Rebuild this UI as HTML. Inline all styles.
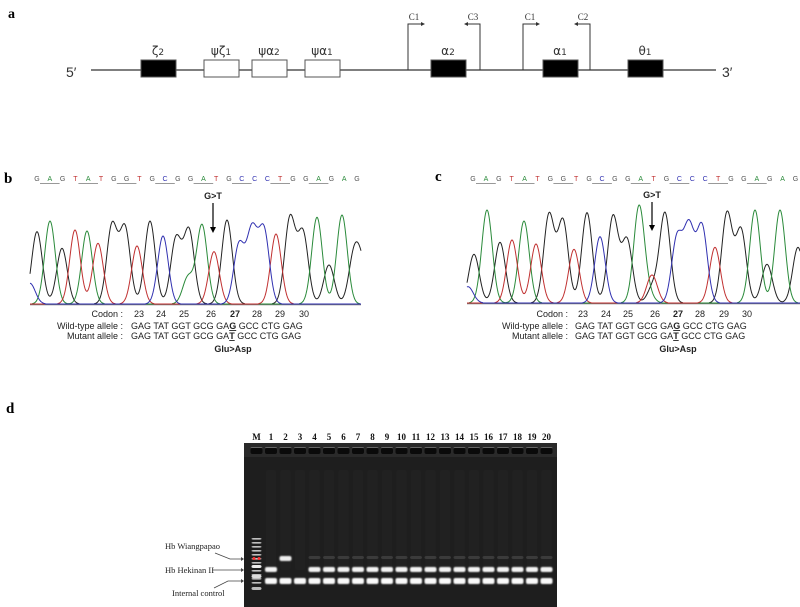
<!DOCTYPE html>
<html><head><meta charset="utf-8">
<style>
html,body{margin:0;padding:0;background:#fff;}
body{width:800px;height:607px;position:relative;overflow:hidden;font-family:"Liberation Sans",Arial,sans-serif;}
svg{position:absolute;left:0;top:0;}
</style></head>
<body>
<svg id="s" width="800" height="607" viewBox="0 0 800 607" xmlns="http://www.w3.org/2000/svg">
<defs>
<filter id="bl" x="-20%" y="-50%" width="140%" height="200%"><feGaussianBlur stdDeviation="0.7"/></filter>
</defs>
<text x="8" y="18" font-family="Liberation Serif" font-weight="bold" font-size="14">a</text>
<line x1="91" y1="70" x2="716" y2="70" stroke="#555" stroke-width="1.5"/>
<text x="66" y="77" font-family="Liberation Sans" font-size="14" fill="#333">5′</text>
<text x="722" y="77" font-family="Liberation Sans" font-size="14" fill="#333">3′</text>
<g stroke="#555" stroke-width="1">
<rect x="141" y="60" width="35" height="17" fill="#000"/>
<rect x="204" y="60" width="35" height="17" fill="#fff"/>
<rect x="252" y="60" width="35" height="17" fill="#fff"/>
<rect x="305" y="60" width="35" height="17" fill="#fff"/>
<rect x="431" y="60" width="35" height="17" fill="#000"/>
<rect x="543" y="60" width="35" height="17" fill="#000"/>
<rect x="628" y="60" width="35" height="17" fill="#000"/>
</g>
<g font-family="DejaVu Sans" font-size="12" fill="#333" text-anchor="middle">
<text x="158" y="55">ζ<tspan font-size="9">2</tspan></text>
<text x="221" y="55">ψζ<tspan font-size="9">1</tspan></text>
<text x="269" y="55">ψα<tspan font-size="9">2</tspan></text>
<text x="322" y="55">ψα<tspan font-size="9">1</tspan></text>
<text x="448" y="55">α<tspan font-size="9">2</tspan></text>
<text x="560" y="55">α<tspan font-size="9">1</tspan></text>
<text x="645" y="55">θ<tspan font-size="9">1</tspan></text>
</g>
<g stroke="#333" stroke-width="1" fill="none">
<path d="M408 70V24H423"/><path d="M480 70V24H466"/>
<path d="M523 70V24H538"/><path d="M590 70V24H576"/>
</g>
<g fill="#333"><path d="M425 24l-4-2v4z"/><path d="M464 24l4-2v4z"/><path d="M540 24l-4-2v4z"/><path d="M574 24l4-2v4z"/></g>
<g font-family="Liberation Serif" font-size="9" fill="#333" text-anchor="middle">
<text x="414" y="20">C1</text><text x="473" y="20">C3</text><text x="530" y="20">C1</text><text x="583" y="20">C2</text>
</g>
<text x="4" y="183" font-family="Liberation Serif" font-weight="bold" font-size="15">b</text>
<text x="435" y="181" font-family="Liberation Serif" font-weight="bold" font-size="15">c</text>
<g id="chrom"></g>
<g font-family="Liberation Sans" font-size="9" fill="#222">
<text x="123" y="317" text-anchor="end">Codon  :</text>
<text x="123" y="329" text-anchor="end">Wild-type allele  :</text>
<text x="123" y="339" text-anchor="end">Mutant allele  :</text>
<text x="139" y="317" text-anchor="middle">23</text><text x="161" y="317" text-anchor="middle">24</text><text x="184" y="317" text-anchor="middle">25</text><text x="211" y="317" text-anchor="middle">26</text><text x="235" y="317" text-anchor="middle" font-weight="bold">27</text><text x="257" y="317" text-anchor="middle">28</text><text x="280" y="317" text-anchor="middle">29</text><text x="304" y="317" text-anchor="middle">30</text>
<text x="131" y="329">GAG  TAT  GGT  GCG  GA<tspan font-weight="bold" text-decoration="underline">G</tspan>  GCC  CTG  GAG</text>
<text x="131" y="339">GAG  TAT  GGT  GCG  GA<tspan font-weight="bold" text-decoration="underline">T</tspan>  GCC  CTG  GAG</text>
<text x="233" y="352" text-anchor="middle" font-weight="bold">Glu&gt;Asp</text>
<text x="213" y="199" text-anchor="middle" font-weight="bold">G&gt;T</text>
</g>
<g font-family="Liberation Sans" font-size="9" fill="#222">
<text x="568" y="317" text-anchor="end">Codon  :</text>
<text x="568" y="329" text-anchor="end">Wild-type allele  :</text>
<text x="568" y="339" text-anchor="end">Mutant allele  :</text>
<text x="583" y="317" text-anchor="middle">23</text><text x="606" y="317" text-anchor="middle">24</text><text x="628" y="317" text-anchor="middle">25</text><text x="655" y="317" text-anchor="middle">26</text><text x="678" y="317" text-anchor="middle" font-weight="bold">27</text><text x="700" y="317" text-anchor="middle">28</text><text x="724" y="317" text-anchor="middle">29</text><text x="747" y="317" text-anchor="middle">30</text>
<text x="575" y="329">GAG  TAT  GGT  GCG  GA<tspan font-weight="bold" text-decoration="underline">G</tspan>  GCC  CTG  GAG</text>
<text x="575" y="339">GAG  TAT  GGT  GCG  GA<tspan font-weight="bold" text-decoration="underline">T</tspan>  GCC  CTG  GAG</text>
<text x="678" y="352" text-anchor="middle" font-weight="bold">Glu&gt;Asp</text>
<text x="652" y="198" text-anchor="middle" font-weight="bold">G&gt;T</text>
</g>
<g stroke="#000" stroke-width="1.2"><line x1="213" y1="203" x2="213" y2="230"/><line x1="652" y1="202" x2="652" y2="228"/></g>
<path d="M213 233l-3-6h6z M652 231l-3-6h6z" fill="#000"/>
<text x="6" y="413" font-family="Liberation Serif" font-weight="bold" font-size="15">d</text>
<g font-family="Liberation Serif" font-weight="bold" font-size="9" fill="#111" text-anchor="middle" id="lanelabels"></g>
<rect x="244" y="443" width="313" height="164" fill="#1e1e1e"/>
<rect x="244" y="443" width="313" height="14" fill="#2a2a2a"/>
<g id="gel"></g>
<g font-family="Liberation Serif" font-size="8.5" fill="#222">
<text x="165" y="549">Hb Wiangpapao</text>
<text x="165" y="573">Hb Hekinan II</text>
<text x="172" y="596">Internal control</text>
</g>
<g stroke="#444" stroke-width="0.8" fill="none">
<path d="M215 553L230 559H242"/><path d="M212 570H242"/><path d="M214 588L228 581H242"/>
</g>
<path d="M244 559l-3-2v4z M244 570l-3-2v4z M244 581l-3-2v4z" fill="#444"/>
</svg>
<script>
const NS="http://www.w3.org/2000/svg";
const col={k:"#222",g:"#2a8a3a",r:"#c03030",b:"#3030b0"};
function chrom(ox,x0,x1,base,peaks,seq,seqx0,seqdx){
  const g=document.getElementById("chrom");
  const ax=document.createElementNS(NS,"line");
  ax.setAttribute("x1",x0);ax.setAttribute("x2",x1);ax.setAttribute("y1",base+0.5);ax.setAttribute("y2",base+0.5);
  ax.setAttribute("stroke","#777");ax.setAttribute("stroke-width","1.5");g.appendChild(ax);
  for(const c of ["k","g","r","b"]){
    const pk=peaks.filter(p=>p[2]==c);if(!pk.length)continue;
    let d="";
    for(let x=x0;x<=x1;x+=0.5){
      let v=0;for(const p of pk){const dx=x-p[0];v+=(base-p[1])*Math.exp(-dx*dx/(2*5.3*5.3));}
      if(v<0.3)v=0;d+=(d?"L":"M")+x.toFixed(1)+" "+(base-v).toFixed(1);
    }
    const pa=document.createElementNS(NS,"path");pa.setAttribute("d",d);pa.setAttribute("fill","none");
    pa.setAttribute("stroke",col[c]);pa.setAttribute("stroke-width","1");g.appendChild(pa);
  }
  const sc={G:"#555",A:"#2a8a3a",T:"#c03030",C:"#3030b0"};
  for(let i=0;i<seq.length;i++){
    const t=document.createElementNS(NS,"text");t.setAttribute("x",seqx0+i*seqdx);t.setAttribute("y",181);
    t.setAttribute("font-size","7");t.setAttribute("font-family","Liberation Sans");t.setAttribute("text-anchor","middle");
    t.setAttribute("fill",sc[seq[i]]);t.textContent=seq[i];g.appendChild(t);
  }
  for(let i=0;i+2<seq.length;i+=3){
    const l=document.createElementNS(NS,"line");l.setAttribute("x1",seqx0+i*seqdx+3);l.setAttribute("x2",seqx0+(i+2)*seqdx-3);
    l.setAttribute("y1",183.5);l.setAttribute("y2",183.5);l.setAttribute("stroke","#777");l.setAttribute("stroke-width","0.7");g.appendChild(l);
  }
}
const Y=v=>160+v/3;
const pb=[[30,370,"b"],[37,215,"k"],[50,183,"g"],[62,265,"k"],[75,210,"r"],[87,213,"g"],[98,250,"r"],[112,197,"k"],[125,205,"k"],[137,258,"r"],[150,183,"k"],[163,228,"b"],[176,237,"k"],[188,352,"g"],[189,212,"k"],[202,195,"g"],[214,275,"r"],[227,180,"k"],[239,255,"b"],[252,215,"b"],[264,213,"b"],[276,222,"r"],[290,175,"k"],[303,220,"k"],[317,172,"g"],[329,315,"k"],[342,165,"g"],[354,290,"k"],[362,330,"k"]].map(p=>[p[0],Y(p[1]),p[2]]);
chrom(0,30,361,304,pb,"GAGTATGGTGCGGATGCCCTGGAGAG",37,12.8);
const pc=[[468,380,"b"],[474,283,"k"],[487,150,"g"],[500,247,"k"],[512,240,"r"],[524,183,"g"],[536,252,"r"],[549,165,"k"],[563,183,"k"],[574,268,"r"],[587,158,"k"],[600,230,"b"],[613,170,"k"],[627,240,"k"],[639,142,"g"],[648,400,"g"],[652,345,"r"],[653,380,"k"],[665,160,"k"],[677,235,"b"],[689,205,"b"],[702,200,"b"],[715,262,"r"],[727,160,"k"],[741,210,"k"],[755,150,"g"],[767,313,"k"],[780,150,"g"],[798,262,"k"]].map(p=>[p[0],Y(p[1]),p[2]]);
chrom(400,467,800,303,pc,"GAGTATGGTGCGGATGCCCTGGAGAG",473,12.9);
const gl=document.getElementById("gel"),ll=document.getElementById("lanelabels");
function rect(x,y,w,h,f,o,blur){const r=document.createElementNS(NS,"rect");r.setAttribute("x",x);r.setAttribute("y",y);r.setAttribute("width",w);r.setAttribute("height",h);r.setAttribute("rx",2);r.setAttribute("fill",f);if(o!=null)r.setAttribute("opacity",o);if(blur)r.setAttribute("filter","url(#bl)");gl.appendChild(r);}
const lx=i=>256.5+i*14.5;
for(let i=0;i<=20;i++){
  const t=document.createElementNS(NS,"text");t.setAttribute("x",lx(i));t.setAttribute("y",440);t.textContent=i==0?"M":i;ll.appendChild(t);
  rect(lx(i)-6,448,12,6,"#0a0a0a",1);
  rect(lx(i)-6,447,12,1,"#777",0.8);
  if(i>=1){rect(lx(i)-5,470,10,100,"#333",0.15);}
}
for(let k=0;k<12;k++){rect(lx(0)-5,538+k*4,10,1.6,"#ddd",0.85);}
rect(lx(0)-5,565,10,3,"#eee",1);rect(lx(0)-5,575,10,3,"#ddd",1);rect(lx(0)-5,587,10,3,"#bbb",1);
rect(lx(0)-4,557,3,3,"#f33",1);rect(lx(0)+1,557,3,3,"#f33",1);
for(let i=1;i<=20;i++){
  const x=lx(i)-6;
  if(i!=3){ if(i==2){rect(x,556,12,5,"#eee",1,true);} else rect(x,567,12,5,"#f4f4f4",1,true);}
  rect(x,578,12,6,"#fafafa",1,true);
  if(i>=4) rect(x,556,12,3,"#555",0.5);
}
</script>
</body></html>
